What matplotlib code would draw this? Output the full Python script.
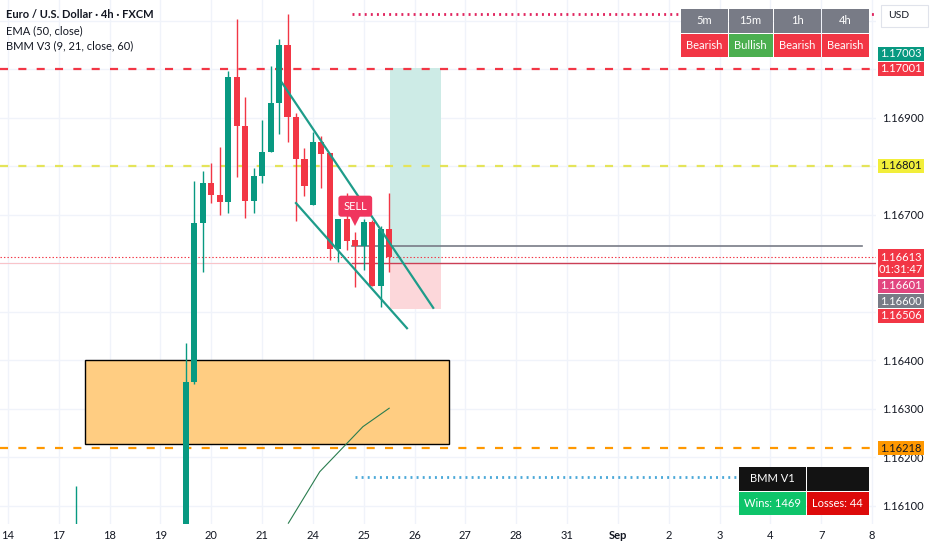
import matplotlib
matplotlib.use('Agg')
import matplotlib.pyplot as plt
import matplotlib.transforms as mtransforms
from matplotlib.patches import Rectangle, Polygon
import numpy as np

plt.rcParams['font.family'] = ['Lato', 'DejaVu Sans']
plt.rcParams['lines.scale_dashes'] = False

# ---------------- data ----------------
day_labels = ['14', '17', '18', '19', '20', '21', '24', '25', '26', '27', '28',
              '31', 'Sep', '2', '3', '4', '7', '8']
BARS_PER_DAY = 6

bar_idx = [8, 21, 22, 23, 24, 25, 26, 27, 28, 29, 30, 31, 32, 33, 34, 35, 36,
           37, 38, 39, 40, 41, 42, 43, 44, 45]
opens = [1.15990, 1.15988, 1.16355, 1.16683, 1.16765, 1.16741, 1.16726, 1.16984,
         1.16883, 1.16728, 1.16780, 1.16829, 1.16930, 1.17050, 1.16901, 1.16815,
         1.16720, 1.16850, 1.16827, 1.16629, 1.16691, 1.16648, 1.16636, 1.16685,
         1.16553, 1.16671]
highs = [1.16141, 1.16436, 1.16770, 1.16790, 1.16807, 1.16840, 1.16996, 1.17104,
         1.16943, 1.16796, 1.16895, 1.17007, 1.17062, 1.17114, 1.16910, 1.16838,
         1.16871, 1.16862, 1.16827, 1.16691, 1.16745, 1.16664, 1.16691, 1.16690,
         1.16677, 1.16745]
lows = [1.15950, 1.15967, 1.16351, 1.16582, 1.16724, 1.16699, 1.16704, 1.16778,
        1.16693, 1.16704, 1.16765, 1.16829, 1.16866, 1.16850, 1.16687, 1.16739,
        1.16720, 1.16755, 1.16607, 1.16603, 1.16627, 1.16551, 1.16586, 1.16553,
        1.16510, 1.16582]
closes = [1.16020, 1.16355, 1.16683, 1.16765, 1.16741, 1.16726, 1.16984, 1.16883,
          1.16728, 1.16780, 1.16829, 1.16930, 1.17050, 1.16901, 1.16815, 1.16759,
          1.16850, 1.16825, 1.16629, 1.16691, 1.16646, 1.16636, 1.16685, 1.16553,
          1.16671, 1.16613]

price_ticks = [1.161, 1.162, 1.163, 1.164, 1.165, 1.166, 1.167, 1.168, 1.169, 1.170, 1.171]

tp_level = 1.17003
red_dash_level = 1.17001
yellow_level = 1.16801
last_price = 1.16613
entry_pink = 1.16601
entry_grey = 1.16600
sl_level = 1.16506
orange_level = 1.16218
grey_line_level = 1.16636
top_dotted_level = 1.17114
blue_dotted_level = 1.16160

zone_bars = [9.1, 52.05]
zone_prices = [1.16227, 1.16400]

trade_bars = [45.1, 51.1]

chan_up_bars = [32.35, 50.2]
chan_up_vals = [1.16972, 1.16508]
chan_lo_bars = [34.0, 47.1]
chan_lo_vals = [1.16724, 1.16466]

ema_bars = [33.1, 36.8, 41.9, 45.0]
ema_vals = [1.16064, 1.16170, 1.16263, 1.16301]

sell_bar = 41

timeframes = ['5m', '15m', '1h', '4h']
biases = ['Bearish', 'Bullish', 'Bearish', 'Bearish']
wins = 1469
losses = 44
countdown = '01:31:47'

header_lines = ['Euro / U.S. Dollar · 4h · FXCM', 'EMA (50, close)', 'BMM V3 (9, 21, close, 60)']

# ---------------- colours ----------------
GREEN = '#089981'
RED = '#f23645'
TXT = '#131722'

# ---------------- figure ----------------
W, H = 932, 550
fig = plt.figure(figsize=(W / 100, H / 100), dpi=100)
PLOT_R, PLOT_B = 876, 524
ax = fig.add_axes([0, 1 - PLOT_B / H, PLOT_R / W, PLOT_B / H])
px_per_bar = 864 / 102
ax.set_xlim(-8 / px_per_bar, (PLOT_R - 8) / px_per_bar)
ax.set_ylim(1.160623, 1.171427)
for s in ax.spines.values():
    s.set_visible(False)


def px_y(price):
    return H - ax.transData.transform((0, price))[1]


# price-axis labels (price, face, text colour, stacking shift in px)
labels = [
    (tp_level, GREEN, 'white', -14),
    (red_dash_level, RED, 'white', 0),
    (yellow_level, '#f2ee3a', TXT, 0),
    (entry_pink, '#e2457f', 'white', 23),
    (entry_grey, '#787b86', 'white', 38),
    (sl_level, RED, 'white', 7),
    (orange_level, '#ff9800', TXT, 0),
]
label_centres = [px_y(p) + dy for p, _, _, dy in labels] + [px_y(last_price) + 6]
label_halfh = [7] * len(labels) + [14]

xt = np.arange(len(day_labels)) * BARS_PER_DAY
ax.set_xticks(xt)
ax.set_xticklabels(day_labels)
ax.tick_params(axis='x', length=0, pad=4, labelsize=8, labelcolor=TXT)
for t in ax.get_xticklabels():
    if t.get_text() == 'Sep':
        t.set_fontweight('bold')

# tick labels that TradingView hides behind the coloured price labels / USD box
def tick_text(v):
    y = px_y(v)
    if y < 30:
        return ''
    for yc, hh in zip(label_centres, label_halfh):
        if abs(y - yc) < hh + 1:
            return ''
    return f'{v:.5f}'

ax.yaxis.tick_right()
ax.set_yticks(price_ticks)
ax.set_yticklabels([tick_text(v) for v in price_ticks])
ax.tick_params(axis='y', length=0, pad=4.5, labelsize=8, labelcolor=TXT)
ax.grid(True, color='#f0f3fa', lw=1)
ax.set_axisbelow(True)

xmin, xmax = ax.get_xlim()

# demand zone
ax.add_patch(Rectangle((zone_bars[0], zone_prices[0]), zone_bars[1] - zone_bars[0],
                       zone_prices[1] - zone_prices[0], facecolor='#ffcd82',
                       edgecolor='black', lw=1, zorder=2))

# trade zones
ax.add_patch(Rectangle((trade_bars[0], entry_pink), trade_bars[1] - trade_bars[0],
                       tp_level - entry_pink, facecolor='#cdebe6', lw=0, zorder=2))
ax.add_patch(Rectangle((trade_bars[0], sl_level), trade_bars[1] - trade_bars[0],
                       entry_pink - sl_level, facecolor='#fcd7da', lw=0, zorder=2))

# horizontal levels
ax.plot([xmin, xmax], [red_dash_level] * 2, color=RED, lw=1.6, dashes=(5.8, 7.4), zorder=3)
ax.plot([xmin, xmax], [yellow_level] * 2, color='#e4e45a', lw=1.6, dashes=(5.8, 7.4), zorder=3)
ax.plot([xmin, xmax], [orange_level] * 2, color='#ff9800', lw=1.6, dashes=(5.8, 7.4), zorder=3)
ax.plot([40.6, xmax], [top_dotted_level] * 2, color='#e0245e', lw=2, dashes=(1.4, 3.0), zorder=3)
ax.plot([40.97, 86.2], [blue_dotted_level] * 2, color='#4aa8d8', lw=2, dashes=(1.4, 3.0), zorder=3)
ax.plot([xmin, xmax], [last_price] * 2, color=RED, lw=0.8, dashes=(1, 1.5), zorder=3)
ax.plot([xmin, 40.6], [entry_pink] * 2, color='#f9c4c9', lw=0.8, zorder=3)
ax.plot([40.6, xmax], [entry_pink] * 2, color='#cc3f55', lw=1, zorder=3)
ax.plot([40.6, 100.8], [grey_line_level] * 2, color='#787b86', lw=1.2, zorder=3)

# channel lines
ax.plot(chan_up_bars, chan_up_vals, color='#1e9c8a', lw=1.6, zorder=6)
ax.plot(chan_lo_bars, chan_lo_vals, color='#1e9c8a', lw=1.6, zorder=6)

# ema-like line
ax.plot(ema_bars, ema_vals, color='#2a7d4f', lw=0.8, zorder=6)

# candles
o = np.array(opens); c = np.array(closes); hi = np.array(highs); lo = np.array(lows)
cols = [GREEN if cc >= oo else RED for oo, cc in zip(o, c)]
ax.vlines(bar_idx, lo, hi, colors=cols, lw=1, zorder=4)
ax.bar(bar_idx, np.maximum(np.abs(c - o), 0.00002), bottom=np.minimum(o, c), width=0.72,
       color=cols, lw=0, zorder=5)

# SELL marker
si = bar_idx.index(sell_bar)
tr_txt = mtransforms.offset_copy(ax.transData, fig=fig, x=0, y=26, units='dots')
ax.text(sell_bar, highs[si], 'SELL', transform=tr_txt, ha='center', va='center',
        fontsize=8, color='white', zorder=8,
        bbox=dict(boxstyle='round,pad=0.45,rounding_size=0.25', fc='#f0365e', ec='none'))
tr_tri = mtransforms.offset_copy(ax.transData, fig=fig, x=0, y=12, units='dots')
ax.plot([sell_bar], [highs[si]], marker='v', ms=8, color='#f0365e', mew=0,
        transform=tr_tri, zorder=8)

# ---------------- overlays in pixel coords ----------------
def fx(x):
    return x / W

def fy(y):
    return 1 - y / H

def cell(x0, y0, x1, y1, fc, text=None, tc='white', fs=8, weight='normal', ec='none', lw=0):
    fig.add_artist(Rectangle((fx(x0), fy(y1)), fx(x1) - fx(x0), fy(y0) - fy(y1),
                             transform=fig.transFigure, facecolor=fc, edgecolor=ec,
                             lw=lw, zorder=5))
    if text:
        fig.text(fx((x0 + x1) / 2), fy((y0 + y1) / 2), text, ha='center', va='center',
                 fontsize=fs, color=tc, weight=weight, zorder=6)

# header text
for i, line in enumerate(header_lines):
    fig.text(fx(6), fy(15 + 15.5 * i), line, ha='left', va='center', fontsize=8,
             color=TXT, weight='bold' if i == 0 else 'normal', zorder=6)

# timeframe table
col_edges = [680, 728, 773, 821, 869]
for i, (tf, b) in enumerate(zip(timeframes, biases)):
    x0, x1 = col_edges[i] + 0.5, col_edges[i + 1] - 0.5
    cell(x0, 9, x1, 32.5, '#787b86', tf)
    cell(x0, 33.5, x1, 57, '#4caf50' if b == 'Bullish' else RED, b)

# stats table
cell(739, 467, 805.5, 490.5, '#131313', 'BMM V1')
cell(806.5, 467, 869, 490.5, '#131313')
cell(739, 491.5, 805.5, 515, '#0ec46a', f'Wins: {wins}')
cell(806.5, 491.5, 869, 515, '#dd0a0a', f'Losses: {losses}')

# USD box
cell(881, 5.5, 928, 26.5, 'white', ec='#e0e3eb', lw=0.8)
fig.text(fx(888), fy(16), 'USD', ha='left', va='center', fontsize=7.5, color=TXT, zorder=6)

for price, fc, tc, dy in labels:
    yc = px_y(price) + dy
    cell(878, yc - 7, 924, yc + 7, fc, f'{price:.5f}', tc)

yc = px_y(last_price)
cell(878, yc - 8, 924, yc + 20, RED)
fig.text(fx(901), fy(yc + 0.5), f'{last_price:.5f}', ha='center', va='center',
         fontsize=8, color='white', zorder=7)
fig.text(fx(901), fy(yc + 13), countdown, ha='center', va='center',
         fontsize=8, color='white', zorder=7)

fig.savefig('out.png', dpi=100, facecolor='white')
